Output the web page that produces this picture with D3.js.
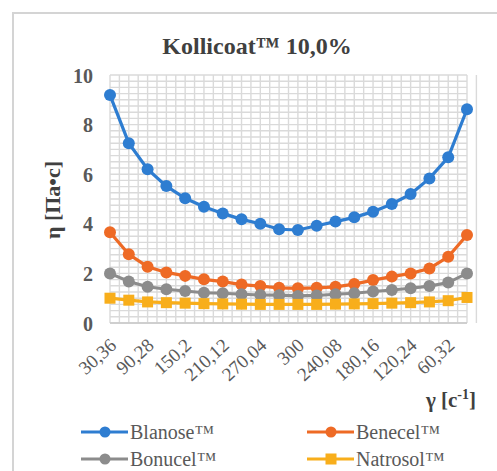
<!DOCTYPE html>
<html><head><meta charset="utf-8">
<script src="https://cdn.jsdelivr.net/npm/d3@7"></script>
<style>body{margin:0;background:#fff}svg{display:block}</style>
</head><body>
<script>
const categories = ["30,36","60,32","90,28","120,24","150,2","180,16","210,12","240,08","270,04","300",
                    "300","270,04","240,08","210,12","180,16","150,2","120,24","90,28","60,32","30,36"];
const blanose  = [9.19,7.25,6.2,5.52,5.03,4.69,4.42,4.18,4.0,3.78,3.75,3.92,4.09,4.26,4.49,4.8,5.2,5.83,6.68,8.62];
const benecel  = [3.66,2.77,2.27,2.04,1.9,1.76,1.67,1.55,1.49,1.42,1.4,1.42,1.46,1.57,1.73,1.87,2.0,2.2,2.67,3.55];
const bonucel  = [2.0,1.67,1.46,1.36,1.29,1.22,1.2,1.16,1.13,1.12,1.09,1.11,1.16,1.2,1.27,1.33,1.4,1.49,1.63,2.0];
const natrosol = [1.0,0.92,0.85,0.82,0.8,0.78,0.77,0.76,0.75,0.75,0.75,0.75,0.76,0.77,0.78,0.8,0.82,0.85,0.9,1.03];
const yTicks = [0,2,4,6,8,10];
const seriesNames = ["Blanose™","Benecel™","Bonucel™","Natrosol™"];

const FONT='"Liberation Serif"';
const W=497,H=471;
const svg=d3.select("body").append("svg").attr("width",W).attr("height",H);
svg.append("rect").attr("x",13).attr("y",13).attr("width",520).attr("height",500)
  .attr("fill","#fff").attr("stroke","#d4d4d4").attr("stroke-width",2);

const L=110,R=467,T=75,B=323;
const x=d3.scalePoint().domain(d3.range(categories.length)).range([L,R]);
const y=d3.scaleLinear().domain([0,10]).range([B,T]);

// grid
const g=svg.append("g");
const step=x.step();
const vx=d3.range(0,categories.length-0.5+0.01,0.5).map(i=>L+i*step);
g.selectAll(".vg").data(vx).join("line").attr("x1",d=>d).attr("x2",d=>d).attr("y1",T).attr("y2",B)
  .attr("stroke","#dadada").attr("stroke-width",1.4);
g.selectAll(".hg").data(d3.range(0,10.01,0.25)).join("line").attr("x1",L).attr("x2",R)
  .attr("y1",d=>y(d)).attr("y2",d=>y(d)).attr("stroke","#dadada").attr("stroke-width",1.4);
svg.append("line").attr("x1",L).attr("x2",R).attr("y1",B).attr("y2",B).attr("stroke","#c8c8c8").attr("stroke-width",1.5);

// y axis
const ya=svg.append("g").attr("transform",`translate(${L-14},0)`)
  .call(d3.axisLeft(y).tickValues(yTicks).tickSize(0).tickFormat(d3.format("d")));
ya.select(".domain").remove();
ya.attr("font-family",null);
ya.selectAll("text").style("font-family",FONT).attr("font-size",20).attr("font-weight","bold").attr("fill","#595959").attr("dy","0.35em");

// x axis
const xa=svg.append("g").attr("transform",`translate(0,${B})`)
  .call(d3.axisBottom(x).tickValues(d3.range(0,categories.length,2)).tickSize(0).tickFormat(i=>categories[i]));
xa.select(".domain").remove();
xa.attr("font-family",null);
xa.selectAll("text").style("font-family",FONT).attr("font-size",19).attr("fill","#595959")
  .attr("text-anchor","end").attr("y",0).attr("dy","0").attr("dx","0")
  .attr("transform","translate(7,24) rotate(-42)");

const colors=["#2e7dd1","#ee6a25","#8c8c8c","#f8ae1b"];
const data=[blanose,benecel,bonucel,natrosol];
const line=d3.line().x((d,i)=>x(i)).y(d=>y(d));
data.forEach((s,k)=>{
  svg.append("path").datum(s).attr("d",line).attr("fill","none").attr("stroke",colors[k]).attr("stroke-width",3.2);
  if(k<3){
    svg.selectAll(null).data(s).join("circle").attr("cx",(d,i)=>x(i)).attr("cy",d=>y(d)).attr("r",6).attr("fill",colors[k]);
  } else {
    svg.selectAll(null).data(s).join("rect").attr("x",(d,i)=>x(i)-5.5).attr("y",d=>y(d)-5.5)
      .attr("width",11).attr("height",11).attr("fill",colors[k]);
  }
});

// title
svg.append("text").attr("x",257).attr("y",54).attr("text-anchor","middle").style("font-family",FONT)
  .attr("font-size",24).attr("font-weight","bold").attr("fill","#404040").text("Kollicoat™ 10,0%");
// y label
svg.append("text").attr("transform","translate(60,200) rotate(-90)").attr("text-anchor","middle").style("font-family",FONT)
  .attr("font-size",22).attr("font-weight","bold").attr("fill","#404040").text("η [Па•с]");
// x label
const xl=svg.append("text").attr("x",476).attr("y",407).attr("text-anchor","end").style("font-family",FONT)
  .attr("font-size",21).attr("font-weight","bold").attr("fill","#404040");
xl.append("tspan").text("γ [c");
xl.append("tspan").attr("dy",-8).attr("font-size",14).text("-1");
xl.append("tspan").attr("dy",8).text("]");

// legend
const lg=[[81,432],[307,432],[81,459],[307,459]];
seriesNames.forEach((n,k)=>{
  const [lx,ly]=lg[k];
  svg.append("line").attr("x1",lx).attr("x2",lx+47).attr("y1",ly).attr("y2",ly).attr("stroke",colors[k]).attr("stroke-width",3.2);
  if(k<3) svg.append("circle").attr("cx",lx+24).attr("cy",ly).attr("r",5.5).attr("fill",colors[k]);
  else svg.append("rect").attr("x",lx+18.5).attr("y",ly-5.5).attr("width",11).attr("height",11).attr("fill",colors[k]);
  svg.append("text").attr("x",lx+49).attr("y",ly+7).style("font-family",FONT).attr("font-size",20)
    .attr("fill","#595959").text(n);
});
</script>
</body></html>
